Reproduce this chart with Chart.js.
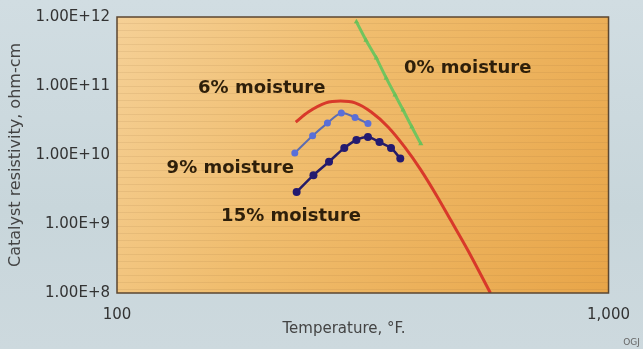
<!DOCTYPE html>
<html>
<head>
<meta charset="utf-8">
<script src="https://cdn.jsdelivr.net/npm/chart.js@4/dist/chart.umd.min.js"></script>
<style>
  html, body { margin: 0; padding: 0; }
  body { width: 643px; height: 349px; background: linear-gradient(180deg, #d1dde2 0%, #c8d6db 60%, #cdd9de 100%); overflow: hidden; }
  #wrap { position: relative; width: 643px; height: 349px; }
</style>
</head>
<body>
<div id="wrap"><canvas id="c" width="643" height="349"></canvas></div>
<script>
// Temperature (°F) and catalyst resistivity (ohm-cm) for each moisture level
const temp0  = [307, 321, 337, 353, 368, 382, 398, 415];
const res0   = [8.5e11, 4.6e11, 2.55e11, 1.3e11, 7.4e10, 4.5e10, 2.55e10, 1.45e10];

const temp6  = [231, 245, 266, 285, 305, 329, 356, 385, 415, 449, 477, 517, 575];
const res6   = [3.0e10, 4.2e10, 5.7e10, 6.05e10, 5.7e10, 4.2e10, 2.55e10, 1.3e10, 6.1e9, 2.45e9, 1.15e9, 4.2e8, 1.0e8];

const temp9  = [230, 250, 268, 286, 305, 324];
const res9   = [1.07e10, 1.9e10, 2.9e10, 4.05e10, 3.5e10, 2.85e10];

const temp15 = [232, 251, 270, 290, 307, 324, 342, 361, 377];
const res15  = [2.9e9, 5.1e9, 8.0e9, 1.26e10, 1.65e10, 1.82e10, 1.54e10, 1.26e10, 8.9e9];

const xTicks = [100, 1000];
const xTickLabels = ['100', '1,000'];
const yTicks = [1e8, 1e9, 1e10, 1e11, 1e12];
const yTickLabels = ['1.00E+8', '1.00E+9', '1.00E+10', '1.00E+11', '1.00E+12'];

const seriesNames = ['0% moisture', '6% moisture', '9% moisture', '15% moisture'];

const pts = (xs, ys) => xs.map((x, i) => ({ x: x, y: ys[i] }));

// Curve labels, anchored in data coordinates
const curveLabels = [
  { text: seriesNames[0], x: 517, y: 1.82e11 },
  { text: seriesNames[1], x: 197, y: 9.35e10 },
  { text: seriesNames[2], x: 170, y: 6.5e9 },
  { text: seriesNames[3], x: 226, y: 1.31e9 }
];

const plotBackground = {
  id: 'plotBackground',
  beforeDraw(chart) {
    const { ctx, chartArea: a } = chart;
    ctx.save();
    const g = ctx.createLinearGradient(a.left, a.top, a.right, a.bottom);
    g.addColorStop(0, '#f5d096');
    g.addColorStop(0.4, '#f0bd6e');
    g.addColorStop(1, '#e8a548');
    ctx.fillStyle = g;
    ctx.fillRect(a.left, a.top, a.right - a.left, a.bottom - a.top);
    // faint horizontal paper streaks
    ctx.strokeStyle = 'rgba(150,105,55,0.12)';
    ctx.lineWidth = 1;
    for (let y = a.top + 6; y < a.bottom; y += 7) {
      ctx.beginPath();
      ctx.moveTo(a.left, y + 0.5);
      ctx.lineTo(a.right, y + 0.5);
      ctx.stroke();
    }
    ctx.restore();
  },
  afterDatasetsDraw(chart) {
    const { ctx, chartArea: a } = chart;
    ctx.save();
    ctx.strokeStyle = '#5b4630';
    ctx.lineWidth = 1.5;
    ctx.strokeRect(a.left, a.top, a.right - a.left, a.bottom - a.top);
    ctx.restore();
  }
};

const textLayer = {
  id: 'textLayer',
  afterDraw(chart) {
    const { ctx } = chart;
    const xs = chart.scales.x, ys = chart.scales.y;
    ctx.save();
    ctx.fillStyle = '#2e1f0a';
    ctx.font = 'bold 18px "DejaVu Sans"';
    ctx.textAlign = 'center';
    ctx.textBaseline = 'middle';
    curveLabels.forEach(l => {
      ctx.fillText(l.text, xs.getPixelForValue(l.x), ys.getPixelForValue(l.y));
    });
    // x-axis title
    ctx.fillStyle = '#444';
    ctx.font = '15px "DejaVu Sans"';
    ctx.fillText('Temperature, °F.', 344, 329);
    // credit
    ctx.fillStyle = '#666';
    ctx.font = '9px "DejaVu Sans"';
    ctx.textAlign = 'right';
    ctx.fillText('OGJ', 640, 343);
    ctx.restore();
  }
};

new Chart(document.getElementById('c'), {
  type: 'line',
  data: {
    datasets: [
      {
        label: seriesNames[0],
        data: pts(temp0, res0),
        borderColor: '#72c45e',
        backgroundColor: '#6cc058',
        borderWidth: 3,
        pointStyle: 'triangle',
        pointRadius: 3,
        pointBorderWidth: 0,
        tension: 0
      },
      {
        label: seriesNames[1],
        data: pts(temp6, res6),
        borderColor: '#d8392a',
        borderWidth: 3,
        pointRadius: 0,
        cubicInterpolationMode: 'monotone'
      },
      {
        label: seriesNames[2],
        data: pts(temp9, res9),
        borderColor: '#5d6cb0',
        backgroundColor: '#5a6fd8',
        borderWidth: 2,
        pointRadius: 3.5,
        pointBorderWidth: 0,
        tension: 0.3
      },
      {
        label: seriesNames[3],
        data: pts(temp15, res15),
        borderColor: '#261c68',
        backgroundColor: '#231a70',
        borderWidth: 2.5,
        pointRadius: 4,
        pointBorderWidth: 0,
        tension: 0.3
      }
    ]
  },
  options: {
    responsive: false,
    animation: false,
    layout: { padding: { top: 17, right: 31, left: 0, bottom: 0 } },
    plugins: { legend: { display: false }, tooltip: { enabled: false } },
    scales: {
      x: {
        type: 'logarithmic',
        min: 100,
        max: 1000,
        grid: { display: false, drawTicks: false },
        border: { display: false },
        afterBuildTicks: s => { s.ticks = xTicks.map(v => ({ value: v })); },
        afterFit: s => { s.height = 56; },
        ticks: {
          autoSkip: false,
          maxRotation: 0,
          padding: 13,
          color: '#333',
          font: { family: 'DejaVu Sans', size: 15 },
          callback: (v) => xTickLabels[xTicks.indexOf(v)] ?? ''
        }
      },
      y: {
        type: 'logarithmic',
        min: 1e8,
        max: 1e12,
        grid: { display: false, drawTicks: false },
        border: { display: false },
        afterBuildTicks: s => { s.ticks = yTicks.map(v => ({ value: v })); },
        afterFit: s => { s.width = 117; },
        ticks: {
          autoSkip: false,
          padding: 7,
          color: '#333',
          font: { family: 'DejaVu Sans', size: 15 },
          callback: (v) => yTickLabels[yTicks.indexOf(v)] ?? ''
        },
        title: {
          display: true,
          text: 'Catalyst resistivity, ohm-cm',
          color: '#444',
          font: { family: 'DejaVu Sans', size: 16 },
          padding: { top: 6, bottom: 0 }
        }
      }
    }
  },
  plugins: [plotBackground, textLayer]
});
</script>
</body>
</html>
